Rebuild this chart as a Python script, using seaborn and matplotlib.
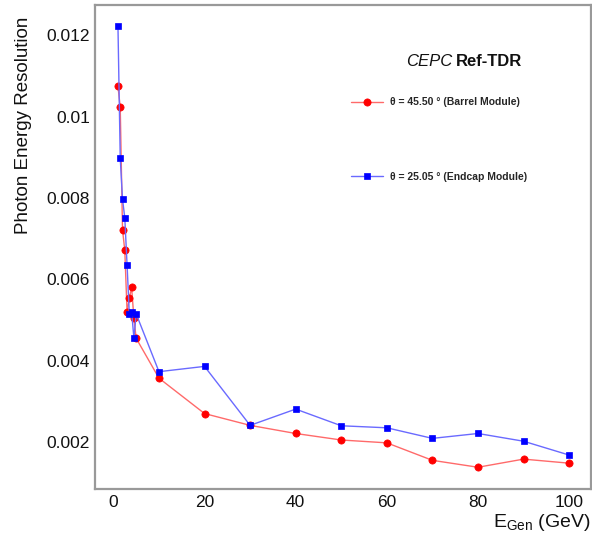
import numpy as np
import pandas as pd
import matplotlib
matplotlib.use('Agg')
import matplotlib.pyplot as plt
import seaborn as sns
from matplotlib.ticker import MultipleLocator, FuncFormatter

# photon energy resolution vs generated energy
energy = [1, 1.5, 2, 2.5, 3, 3.5, 4, 4.5, 5, 10, 20, 30, 40, 50, 60, 70, 80, 90, 100]
res_barrel = [0.01075, 0.01023, 0.00722, 0.00671, 0.00519, 0.00555, 0.00580, 0.00504, 0.00455,
              0.00357, 0.00270, 0.00241, 0.00221, 0.00205, 0.00198, 0.00155, 0.00138, 0.00158, 0.00148]
res_endcap = [0.01223, 0.00898, 0.00797, 0.00751, 0.00635, 0.00514, 0.00520, 0.00455, 0.00515,
              0.00373, 0.00386, 0.00241, 0.00281, 0.00240, 0.00235, 0.00209, 0.00221, 0.00202, 0.00168]
label_barrel = 'θ = 45.50 ° (Barrel Module)'
label_endcap = 'θ = 25.05 ° (Endcap Module)'

sns.set_style('white')
plt.rcParams['font.family'] = ['Liberation Sans', 'DejaVu Sans']
plt.rcParams['mathtext.fontset'] = 'custom'
plt.rcParams['mathtext.rm'] = 'Liberation Sans'

df_b = pd.DataFrame({'E': energy, 'res': res_barrel})
df_e = pd.DataFrame({'E': energy, 'res': res_endcap})

fig = plt.figure(figsize=(5.92, 5.41), dpi=100)
ax = fig.add_axes([0.160, 0.0961, 0.8383, 0.8952])

sns.lineplot(data=df_b, x='E', y='res', ax=ax, color='#ff6a6a', lw=1.0,
             marker='o', markersize=5.2, markerfacecolor='#ff0000', markeredgecolor='#ff0000',
             markeredgewidth=0.5, estimator=None, sort=False, label=label_barrel)
sns.lineplot(data=df_e, x='E', y='res', ax=ax, color='#6a6aff', lw=1.0,
             marker='s', markersize=4.6, markerfacecolor='#0000ff', markeredgecolor='#0000ff',
             markeredgewidth=0.5, estimator=None, sort=False, label=label_endcap)

ax.set_xlim(-4.1, 104.8)
ax.set_ylim(0.000845, 0.012753)

ax.xaxis.set_major_locator(MultipleLocator(20))
ax.xaxis.set_minor_locator(MultipleLocator(5))
ax.yaxis.set_major_locator(MultipleLocator(0.002))
ax.yaxis.set_minor_locator(MultipleLocator(0.0005))
ax.yaxis.set_major_formatter(FuncFormatter(lambda v, p: '%g' % round(v, 6)))

ax.tick_params(axis='both', which='both', direction='in', colors='#888888',
               labelcolor='#111111', labelsize=12.5)
ax.tick_params(axis='y', which='major', length=8, width=1.0, pad=3.5)
ax.tick_params(axis='y', which='minor', length=4, width=1.0)
ax.tick_params(axis='x', which='major', length=6, width=1.0, pad=4)
ax.tick_params(axis='x', which='minor', length=3, width=1.0)

for sp in ax.spines.values():
    sp.set_color('#999999')
    sp.set_linewidth(1.6)

ax.set_xlabel(r'E$_{\mathregular{Gen}}$ (GeV)', fontsize=14, loc='right', color='#111111')
ax.xaxis.set_label_coords(1.0, -0.048)
ax.set_ylabel('Photon Energy Resolution', fontsize=13.5, loc='top', color='#111111')
ax.yaxis.set_label_coords(-0.126, 0.975)

ax.text(0.6267, 0.874, 'CEPC', transform=ax.transAxes, fontsize=12, style='italic',
        ha='left', va='baseline', color='#111111')
ax.text(0.7286, 0.874, 'Ref-TDR', transform=ax.transAxes, fontsize=12, weight='bold',
        ha='left', va='baseline', color='#111111')

leg = ax.legend(loc='center left', bbox_to_anchor=(0.516, 0.7217), frameon=False,
                prop={'weight': 'bold', 'size': 7.5}, labelspacing=6.2,
                handlelength=3.07, handletextpad=0.67, borderpad=0, borderaxespad=0)

fig.savefig('out.png', dpi=100, facecolor='white')
